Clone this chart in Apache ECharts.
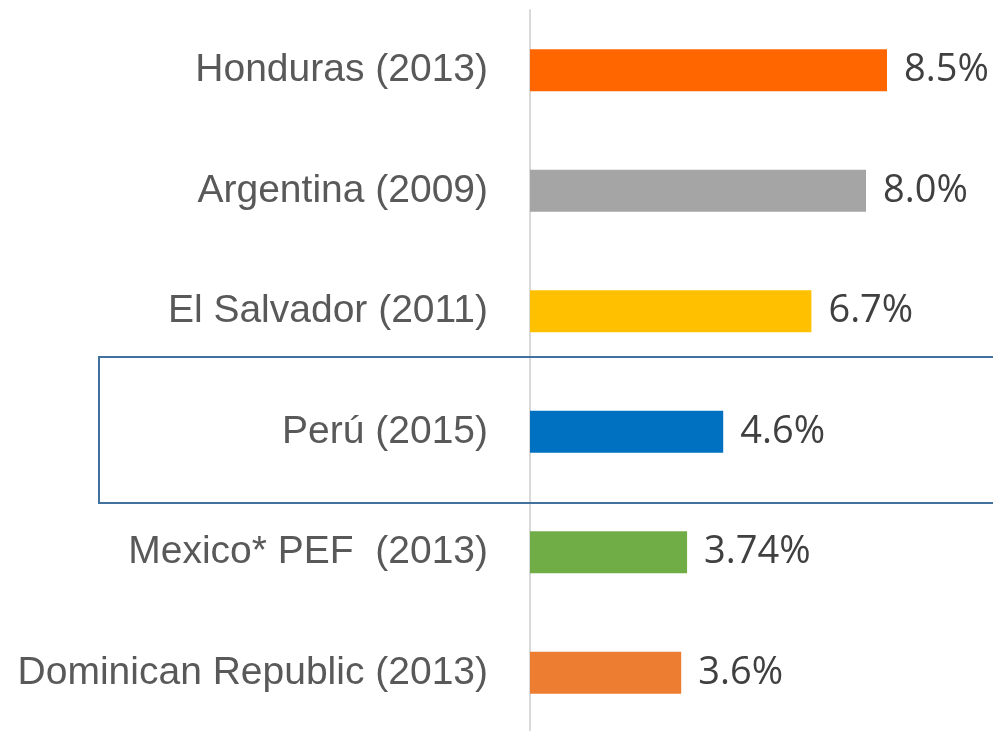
<!DOCTYPE html>
<html>
<head>
<meta charset="utf-8">
<script src="https://cdn.jsdelivr.net/npm/echarts@6/dist/echarts.min.js"></script>
<style>
  html, body { margin: 0; padding: 0; background: #fff; }
  #chart { width: 993px; height: 731px; }
</style>
</head>
<body>
<div id="chart"></div>
<script>
  // categories, top to bottom
  var countries = ['Honduras (2013)', 'Argentina (2009)', 'El Salvador (2011)', 'Perú (2015)', 'Mexico* PEF  (2013)', 'Dominican Republic (2013)'];
  var values = [8.5, 8.0, 6.7, 4.6, 3.74, 3.6];
  var valueLabels = ['8.5%', '8.0%', '6.7%', '4.6%', '3.74%', '3.6%'];
  var barColors = ['#FF6600', '#A5A5A5', '#FFC000', '#0070C0', '#70AD47', '#ED7D31'];

  var myChart = echarts.init(document.getElementById('chart'));

  var option = {
    backgroundColor: '#ffffff',
    animation: false,
    grid: { left: 530, top: 10, width: 420, height: 723, outerBoundsMode: 'none', containLabel: false },
    xAxis: {
      type: 'value',
      min: 0,
      max: 10,
      show: false
    },
    yAxis: {
      type: 'category',
      inverse: true,
      data: countries,
      axisLine: { show: true, lineStyle: { color: '#d9d9d9', width: 2 } },
      axisTick: { show: false },
      axisLabel: {
        margin: 42,
        fontFamily: '"Liberation Sans Narrow", "Arial Narrow", "Liberation Sans", sans-serif',
        fontSize: 39,
        color: '#595959'
      }
    },
    series: [{
      type: 'bar',
      barWidth: 42,
      data: values.map(function (v, i) {
        return { value: v, itemStyle: { color: barColors[i] } };
      }),
      label: {
        show: true,
        position: 'right',
        distance: 17,
        fontFamily: '"Open Sans", sans-serif',
        fontSize: 38,
        color: '#404040',
        formatter: function (p) { return valueLabels[p.dataIndex]; }
      }
    }],
    graphic: [{
      type: 'rect',
      shape: { x: 99, y: 357, width: 900, height: 146 },
      style: { fill: 'none', stroke: '#41719C', lineWidth: 2 },
      z: 10
    }]
  };

  myChart.setOption(option);
</script>
</body>
</html>
